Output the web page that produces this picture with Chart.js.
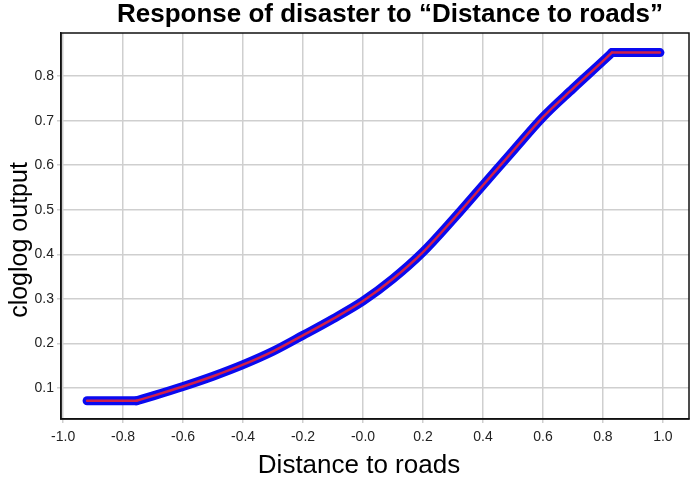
<!DOCTYPE html>
<html lang="en">
<head>
    <meta charset="UTF-8">
    <title>Response of disaster to Distance to roads</title>
    <script src="https://cdn.jsdelivr.net/npm/chart.js"></script>
    <style>
        body { margin: 0; background: #fff; }
        #wrap { width: 697px; height: 482px; }
    </style>
</head>
<body>
    <div id="wrap">
        <canvas id="responseChart" width="697" height="482"></canvas>
    </div>
    <script>
        // response curve
        const distance = [-0.92, -0.755, -0.7, -0.6, -0.5, -0.4, -0.3, -0.2, -0.1, 0.0, 0.1, 0.2, 0.3, 0.4, 0.5, 0.6, 0.7, 0.8, 0.83, 0.99];
        const output = [0.071, 0.071, 0.082, 0.103, 0.126, 0.152, 0.182, 0.218, 0.255, 0.295, 0.345, 0.405, 0.478, 0.555, 0.632, 0.708, 0.772, 0.834, 0.853, 0.853];

        // tick labels as printed
        const xTickLabels = ["-1.0", "-0.8", "-0.6", "-0.4", "-0.2", "-0.0", "0.2", "0.4", "0.6", "0.8", "1.0"];
        const yTickLabels = ["0.1", "0.2", "0.3", "0.4", "0.5", "0.6", "0.7", "0.8"];

        const titleText = "Response of disaster to \u201cDistance to roads\u201d";
        const xTitle = "Distance to roads";
        const yTitle = "cloglog output";

        const points = distance.map((x, i) => ({ x: x, y: output[i] }));
        const last = points.length - 1;
        // flat clamps at both ends are straight, the middle part is smooth
        const pieces = [
            { data: points.slice(0, 2), mode: "default" },
            { data: points.slice(1, last), mode: "monotone" },
            { data: points.slice(last - 1), mode: "default" }
        ];

        const makeSets = (color, width) => pieces.map(p => ({
            data: p.data,
            borderColor: color,
            borderWidth: width,
            pointRadius: 0,
            tension: 0,
            cubicInterpolationMode: p.mode,
            borderCapStyle: "round",
            borderJoinStyle: "round"
        }));

        // frame round the plot area + the three titles
        const decor = {
            id: "decor",
            afterDraw(chart) {
                const a = chart.chartArea;
                const c = chart.ctx;
                c.save();
                c.strokeStyle = "#111";
                c.lineWidth = 1.5;
                c.strokeRect(a.left, a.top, a.right - a.left, a.bottom - a.top);

                c.fillStyle = "#000";
                c.textAlign = "center";
                c.textBaseline = "middle";
                c.font = "bold 26px 'Liberation Sans'";
                c.fillText(titleText, 390, 15);

                c.font = "26px 'Liberation Sans'";
                c.fillText(xTitle, 359, 466);

                c.font = "25px 'Liberation Sans'";
                c.translate(20, 240);
                c.rotate(-Math.PI / 2);
                c.fillText(yTitle, 0, 0);
                c.restore();
            }
        };

        const ctx = document.getElementById("responseChart").getContext("2d");
        new Chart(ctx, {
            type: "line",
            data: {
                // red first so it is painted on top of the blue band
                datasets: makeSets("#d0204a", 2.5).concat(makeSets("#0a0af0", 9))
            },
            options: {
                responsive: false,
                animation: false,
                devicePixelRatio: 1,
                layout: { padding: { left: 0, right: 8, top: 33, bottom: 0 } },
                plugins: {
                    legend: { display: false },
                    tooltip: { enabled: false },
                    title: { display: false }
                },
                scales: {
                    x: {
                        type: "linear",
                        min: -1.007,
                        max: 1.087,
                        afterFit: s => { s.height = 63; },
                        ticks: {
                            stepSize: 0.2,
                            includeBounds: false,
                            color: "#222",
                            padding: 6,
                            font: { family: "Liberation Sans", size: 14 },
                            callback: (v, i) => xTickLabels[i]
                        },
                        grid: { color: "#cfcfcf", lineWidth: 1.5, tickLength: 4 },
                        border: { color: "#111", width: 1.5 }
                    },
                    y: {
                        type: "linear",
                        min: 0.03,
                        max: 0.897,
                        afterFit: s => { s.width = 61; },
                        ticks: {
                            stepSize: 0.1,
                            includeBounds: false,
                            color: "#222",
                            padding: 3,
                            font: { family: "Liberation Sans", size: 14 },
                            callback: (v, i) => yTickLabels[i]
                        },
                        grid: { color: "#cfcfcf", lineWidth: 1.5, tickLength: 4 },
                        border: { color: "#111", width: 1.5 }
                    }
                }
            },
            plugins: [decor]
        });
    </script>
</body>
</html>
